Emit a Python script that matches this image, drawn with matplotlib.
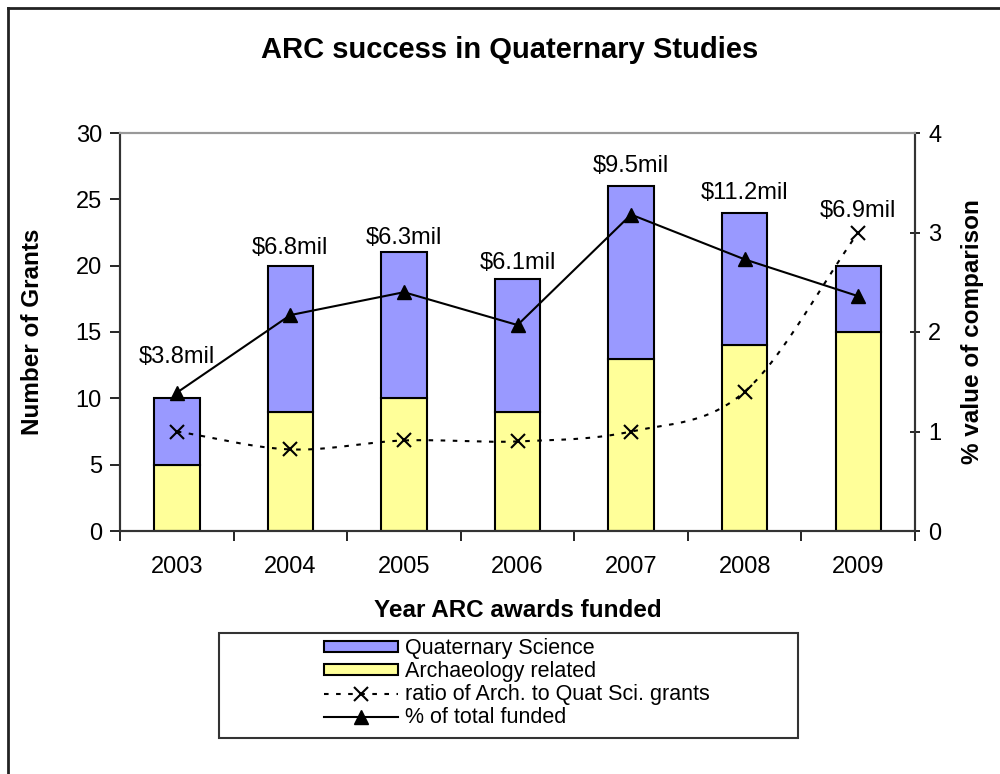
import numpy as np
import matplotlib
matplotlib.use("Agg")
import matplotlib.pyplot as plt
from matplotlib.lines import Line2D
from matplotlib.patches import Patch, Rectangle

plt.rcParams['font.family'] = ['Liberation Sans', 'DejaVu Sans']

years = ["2003", "2004", "2005", "2006", "2007", "2008", "2009"]
archaeology = [5, 9, 10, 9, 13, 14, 15]
quaternary = [5, 11, 11, 10, 13, 10, 5]
ratio = [1.0, 0.82, 0.91, 0.90, 1.0, 1.4, 3.0]
pct_funded = [1.39, 2.17, 2.40, 2.07, 3.18, 2.73, 2.36]
funding_labels = ["$3.8mil", "$6.8mil", "$6.3mil", "$6.1mil", "$9.5mil", "$11.2mil", "$6.9mil"]
label_heights = [13.1, 21.3, 22.1, 20.2, 27.5, 25.5, 24.1]

BLUE = "#9999FF"
YELLOW = "#FFFF99"

fig = plt.figure(figsize=(10, 7.74), dpi=100)
ax = fig.add_axes([0.120, 1 - 531 / 774, 0.795, 398 / 774])
ax2 = ax.twinx()

x = np.arange(len(years))
w = 0.40
ax.bar(x, archaeology, w, color=YELLOW, edgecolor="black", linewidth=1.5, zorder=2)
ax.bar(x, quaternary, w, bottom=archaeology, color=BLUE, edgecolor="black", linewidth=1.5, zorder=2)

for xi, lab, h in zip(x, funding_labels, label_heights):
    ax.text(xi, h, lab, ha="center", va="center", fontsize=17, zorder=5)

ax.set_xlim(-0.5, len(years) - 0.5)
ax.set_ylim(0, 30)
ax.set_yticks(range(0, 31, 5))
ax.set_xticks(x)
ax.set_xticklabels(years)
ax.set_xticks(np.arange(-0.5, len(years) - 0.4, 1.0), minor=True)
ax.tick_params(axis="x", which="major", length=0, labelsize=17, pad=18)
ax.tick_params(axis="x", which="minor", length=7, width=1.2, direction="out")
ax.tick_params(axis="y", length=7, width=1.2, direction="out", labelsize=17, pad=6)

ax2.set_ylim(0, 4)
ax2.set_yticks(range(0, 5))
ax2.tick_params(axis="y", length=7, width=1.2, direction="inout", labelsize=17, pad=6)

for a in (ax, ax2):
    a.spines["top"].set_color("#999999")
    a.spines["top"].set_linewidth(1.5)
    for s in ("left", "right", "bottom"):
        a.spines[s].set_color("#333333")
        a.spines[s].set_linewidth(1.5)

ax.set_xlabel("Year ARC awards funded", fontsize=17.5, fontweight="bold", labelpad=15)
ax.set_ylabel("Number of Grants", fontsize=17.5, fontweight="bold", labelpad=23)
ax2.set_ylabel("% value of comparison", fontsize=17.5, fontweight="bold", labelpad=14)

# smooth (Catmull-Rom) curve through the ratio points
def catmull_rom(xs, ys, n=30):
    xs = np.asarray(xs, float)
    ys = np.asarray(ys, float)
    px = np.concatenate([[2 * xs[0] - xs[1]], xs, [2 * xs[-1] - xs[-2]]])
    py = np.concatenate([[2 * ys[0] - ys[1]], ys, [2 * ys[-1] - ys[-2]]])
    outx, outy = [], []
    t = np.linspace(0, 1, n)
    for i in range(1, len(px) - 2):
        for P, out in ((px, outx), (py, outy)):
            p0, p1, p2, p3 = P[i - 1], P[i], P[i + 1], P[i + 2]
            out.extend(0.5 * ((2 * p1) + (-p0 + p2) * t +
                              (2 * p0 - 5 * p1 + 4 * p2 - p3) * t ** 2 +
                              (-p0 + 3 * p1 - 3 * p2 + p3) * t ** 3))
    return np.array(outx), np.array(outy)

sx, sy = catmull_rom(x, ratio)
ax2.plot(sx, sy, color="black", linewidth=1.5, linestyle=(0, (2.2, 3.6)), zorder=3)
ax2.plot(x, ratio, linestyle="none", marker="x", markersize=10, mew=1.5, color="black", zorder=4)
ax2.plot(x, pct_funded, color="black", linewidth=1.5, marker="^", markersize=10, zorder=4)

# legend box
fig.patches.append(Rectangle((219 / 1000, 1 - 738 / 774), (798 - 219) / 1000, (738 - 633) / 774,
                             transform=fig.transFigure, facecolor="white", edgecolor="#333333",
                             linewidth=1.5, zorder=0))
handles = [
    Patch(facecolor=BLUE, edgecolor="black", linewidth=1.5),
    Patch(facecolor=YELLOW, edgecolor="black", linewidth=1.5),
    Line2D([], [], color="black", linewidth=1.5, linestyle=(0, (2.2, 3.6)), marker="x", markersize=10, mew=1.5),
    Line2D([], [], color="black", linewidth=1.5, marker="^", markersize=10),
]
labels = ["Quaternary Science", "Archaeology related", "ratio of Arch. to Quat Sci. grants", "% of total funded"]
fig.legend(handles, labels, loc="upper left", bbox_to_anchor=(324 / 1000, 1 - 638 / 774),
           frameon=False, fontsize=15.5, handlelength=3.44, handleheight=0.45,
           handletextpad=0.33, labelspacing=0.1, borderpad=0.0, borderaxespad=0.0)

# outer figure border (top and left)
fig.add_artist(Line2D([8 / 1000, 1], [1 - 8 / 774, 1 - 8 / 774], transform=fig.transFigure, color="#222222", linewidth=2))
fig.add_artist(Line2D([8 / 1000, 8 / 1000], [0, 1 - 8 / 774], transform=fig.transFigure, color="#222222", linewidth=2))

fig.text(0.51, 1 - 50 / 774, "ARC success in Quaternary Studies", ha="center", va="center",
         fontsize=21, fontweight="bold")

fig.savefig("out.png", dpi=100)
